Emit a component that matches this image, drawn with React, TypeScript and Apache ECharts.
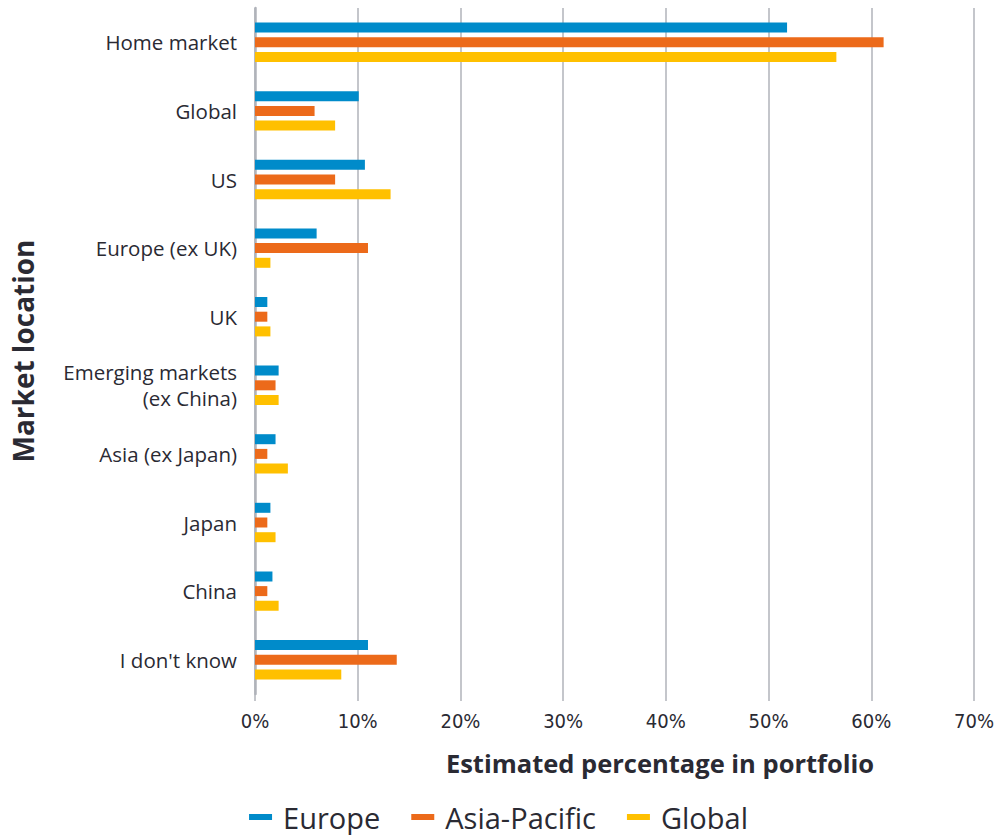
import React, { useEffect, useRef } from "react";
import * as echarts from "echarts";

const categories = [
  "Home market",
  "Global",
  "US",
  "Europe (ex UK)",
  "UK",
  "Emerging markets\n(ex China)",
  "Asia (ex Japan)",
  "Japan",
  "China",
  "I don't know",
];
const europe = [51.8, 10.1, 10.7, 6.0, 1.2, 2.3, 2.0, 1.5, 1.7, 11.0];
const asiaPacific = [61.2, 5.8, 7.8, 11.0, 1.2, 2.0, 1.2, 1.2, 1.2, 13.8];
const globalVals = [56.6, 7.8, 13.2, 1.5, 1.5, 2.3, 3.2, 2.0, 2.3, 8.4];
const seriesNames = ["Europe", "Asia-Pacific", "Global"];
const colors = ["#008bca", "#ec6a1a", "#ffc000"];

const FONT = "'Open Sans', 'Noto Sans', sans-serif";
const NARROW = "'Liberation Sans Narrow', 'DejaVu Sans Condensed', sans-serif";

export default function App() {
  const ref = useRef<HTMLDivElement>(null);
  useEffect(() => {
    if (!ref.current) return;
    const chart = echarts.init(ref.current, undefined, { renderer: "svg" });
    const data = [europe, asiaPacific, globalVals];
    chart.setOption({
      animation: false,
      grid: { left: 255, right: 22, top: 8, bottom: 141, containLabel: false },
      legend: {
        top: 802,
        left: "center",
        padding: 0,
        icon: "rect",
        itemWidth: 23,
        itemHeight: 6,
        itemGap: 31,
        textStyle: {
          fontFamily: FONT,
          fontSize: 29,
          lineHeight: 30,
          color: "#2a2a33",
          padding: [0, 0, 0, 6],
        },
        data: seriesNames,
      },
      xAxis: {
        type: "value",
        min: 0,
        max: 70,
        interval: 10,
        axisLine: { show: false },
        axisTick: { show: true, length: 7, lineStyle: { color: "#b0b3ba", width: 1.5 } },
        splitLine: { show: true, lineStyle: { color: "#b0b3ba", width: 1.5 } },
        axisLabel: {
          formatter: "{value}%",
          fontFamily: NARROW,
          fontSize: 20,
          color: "#2a2a33",
          margin: 17,
        },
      },
      yAxis: {
        type: "category",
        inverse: true,
        data: categories,
        name: "Market location",
        nameLocation: "middle",
        nameGap: 218,
        nameRotate: 90,
        nameTextStyle: { fontFamily: FONT, fontSize: 28, fontWeight: "bold", color: "#2a2a33" },
        axisLine: { show: true, lineStyle: { color: "#b0b3ba", width: 2.5 } },
        axisTick: { show: false },
        axisLabel: {
          fontFamily: FONT,
          fontSize: 20.5,
          color: "#2a2a33",
          margin: 18,
          lineHeight: 26,
          align: "right",
        },
      },
      graphic: [
        {
          type: "text",
          x: 660,
          y: 763,
          style: {
            text: "Estimated percentage in portfolio",
            fontFamily: FONT,
            fontSize: 25.5,
            fontWeight: "bold",
            fill: "#2a2a33",
            align: "center",
            verticalAlign: "middle",
          },
        },
      ],
      series: seriesNames.map((name, i) => ({
        name,
        type: "bar",
        data: data[i],
        barWidth: 10,
        barGap: "47%",
        itemStyle: { color: colors[i] },
      })),
    });
    return () => chart.dispose();
  }, []);
  return (
    <div
      ref={ref}
      style={{ position: "absolute", left: 0, top: 0, width: 997, height: 835 }}
    />
  );
}
